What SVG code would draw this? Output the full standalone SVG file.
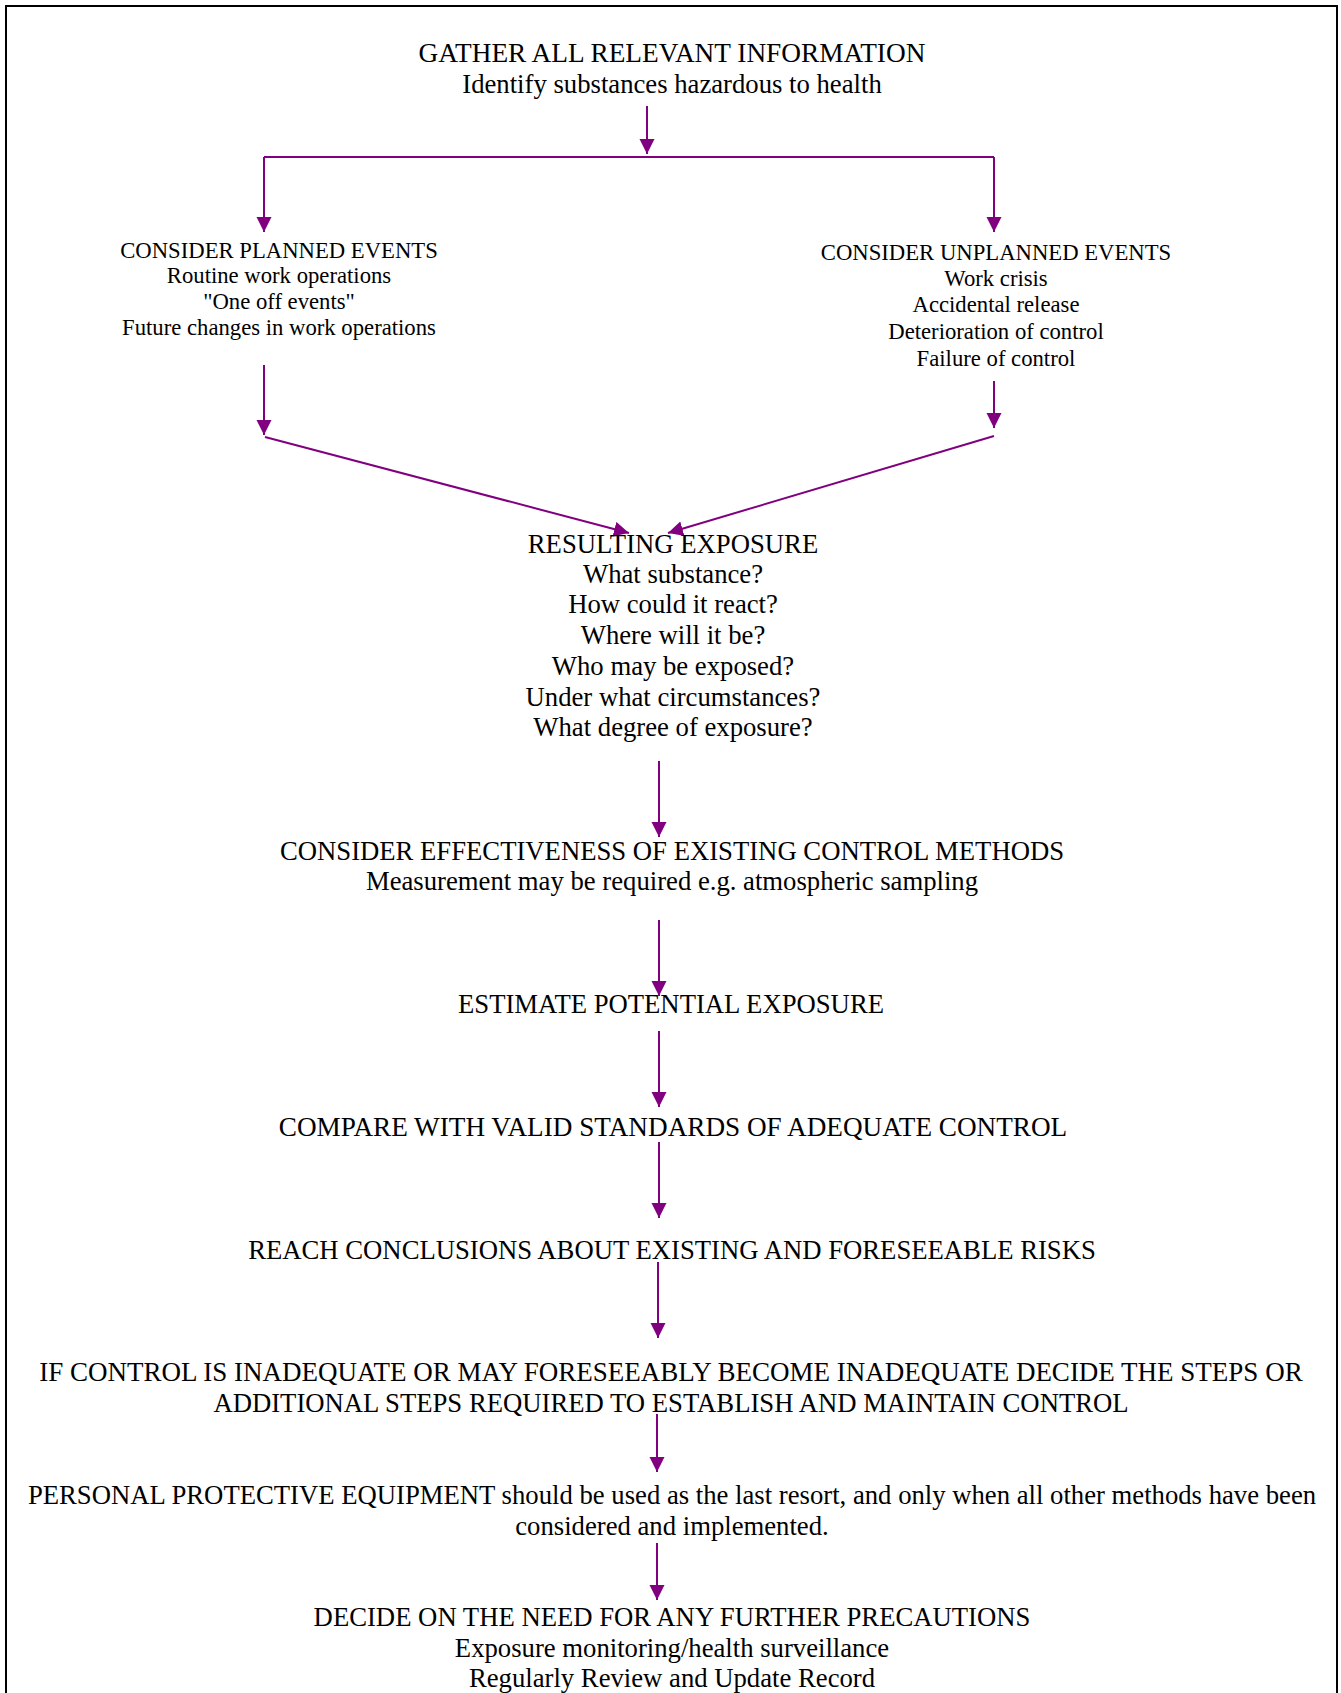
<svg xmlns="http://www.w3.org/2000/svg" width="1341" height="1693" viewBox="0 0 1341 1693">
<style>
text{font-family:"Liberation Serif","Times New Roman",serif;fill:#000;text-anchor:middle}
.m{font-size:26.7px}
.s{font-size:22.7px}
.c{stroke:#800080;stroke-width:2;fill:none}
</style>
<defs>
<marker id="ah" markerUnits="userSpaceOnUse" markerWidth="16" markerHeight="16" refX="15" refY="7.5" orient="auto">
<path d="M0,0 L15,7.5 L0,15 z" fill="#800080"/>
</marker>
</defs>
<rect x="6" y="6" width="1331" height="1700" fill="#fff" stroke="#000" stroke-width="2"/>
<g id="connectors">
<line class="c" x1="647" y1="106" x2="647" y2="154" marker-end="url(#ah)"/>
<line class="c" x1="264" y1="157" x2="994" y2="157"/>
<line class="c" x1="264" y1="157" x2="264" y2="232" marker-end="url(#ah)"/>
<line class="c" x1="994" y1="157" x2="994" y2="232" marker-end="url(#ah)"/>
<line class="c" x1="264" y1="365" x2="264" y2="435" marker-end="url(#ah)"/>
<line class="c" x1="994" y1="381" x2="994" y2="428" marker-end="url(#ah)"/>
<line class="c" x1="265" y1="437" x2="629" y2="533" marker-end="url(#ah)"/>
<line class="c" x1="994" y1="436" x2="668" y2="533" marker-end="url(#ah)"/>
<line class="c" x1="659" y1="761" x2="659" y2="837" marker-end="url(#ah)"/>
<line class="c" x1="659" y1="920" x2="659" y2="996" marker-end="url(#ah)"/>
<line class="c" x1="659" y1="1031" x2="659" y2="1107" marker-end="url(#ah)"/>
<line class="c" x1="659" y1="1142" x2="659" y2="1218" marker-end="url(#ah)"/>
<line class="c" x1="658" y1="1262" x2="658" y2="1338" marker-end="url(#ah)"/>
<line class="c" x1="657" y1="1414" x2="657" y2="1472" marker-end="url(#ah)"/>
<line class="c" x1="657" y1="1543" x2="657" y2="1600" marker-end="url(#ah)"/>
</g>
<g id="gather">
<text class="m" x="672" y="62" style="font-size:27.3px">GATHER ALL RELEVANT INFORMATION</text>
<text class="m" x="672" y="93">Identify substances hazardous to health</text>
</g>
<g id="planned">
<text class="s" x="279" y="258">CONSIDER PLANNED EVENTS</text>
<text class="s" x="279" y="283">Routine work operations</text>
<text class="s" x="279" y="309">"One off events"</text>
<text class="s" x="279" y="335">Future changes in work operations</text>
</g>
<g id="unplanned">
<text class="s" x="996" y="260">CONSIDER UNPLANNED EVENTS</text>
<text class="s" x="996" y="286">Work crisis</text>
<text class="s" x="996" y="312">Accidental release</text>
<text class="s" x="996" y="339">Deterioration of control</text>
<text class="s" x="996" y="366">Failure of control</text>
</g>
<g id="resulting">
<text class="m" x="673" y="553">RESULTING EXPOSURE</text>
<text class="m" x="673" y="583">What substance?</text>
<text class="m" x="673" y="613">How could it react?</text>
<text class="m" x="673" y="644">Where will it be?</text>
<text class="m" x="673" y="675">Who may be exposed?</text>
<text class="m" x="673" y="706">Under what circumstances?</text>
<text class="m" x="673" y="736">What degree of exposure?</text>
</g>
<g id="effectiveness">
<text class="m" x="672" y="860">CONSIDER EFFECTIVENESS OF EXISTING CONTROL METHODS</text>
<text class="m" x="672" y="890">Measurement may be required e.g. atmospheric sampling</text>
</g>
<g id="estimate">
<text class="m" x="671" y="1013">ESTIMATE POTENTIAL EXPOSURE</text>
</g>
<g id="compare">
<text class="m" x="673" y="1136" style="font-size:27.2px">COMPARE WITH VALID STANDARDS OF ADEQUATE CONTROL</text>
</g>
<g id="conclusions">
<text class="m" x="672" y="1259">REACH CONCLUSIONS ABOUT EXISTING AND FORESEEABLE RISKS</text>
</g>
<g id="inadequate">
<text class="m" x="671" y="1381" style="font-size:27px">IF CONTROL IS INADEQUATE OR MAY FORESEEABLY BECOME INADEQUATE DECIDE THE STEPS OR</text>
<text class="m" x="671" y="1412">ADDITIONAL STEPS REQUIRED TO ESTABLISH AND MAINTAIN CONTROL</text>
</g>
<g id="ppe">
<text class="m" x="672" y="1504">PERSONAL PROTECTIVE EQUIPMENT should be used as the last resort, and only when all other methods have been</text>
<text class="m" x="672" y="1535">considered and implemented.</text>
</g>
<g id="precautions">
<text class="m" x="672" y="1626">DECIDE ON THE NEED FOR ANY FURTHER PRECAUTIONS</text>
<text class="m" x="672" y="1657">Exposure monitoring/health surveillance</text>
<text class="m" x="672" y="1687">Regularly Review and Update Record</text>
</g>
</svg>
